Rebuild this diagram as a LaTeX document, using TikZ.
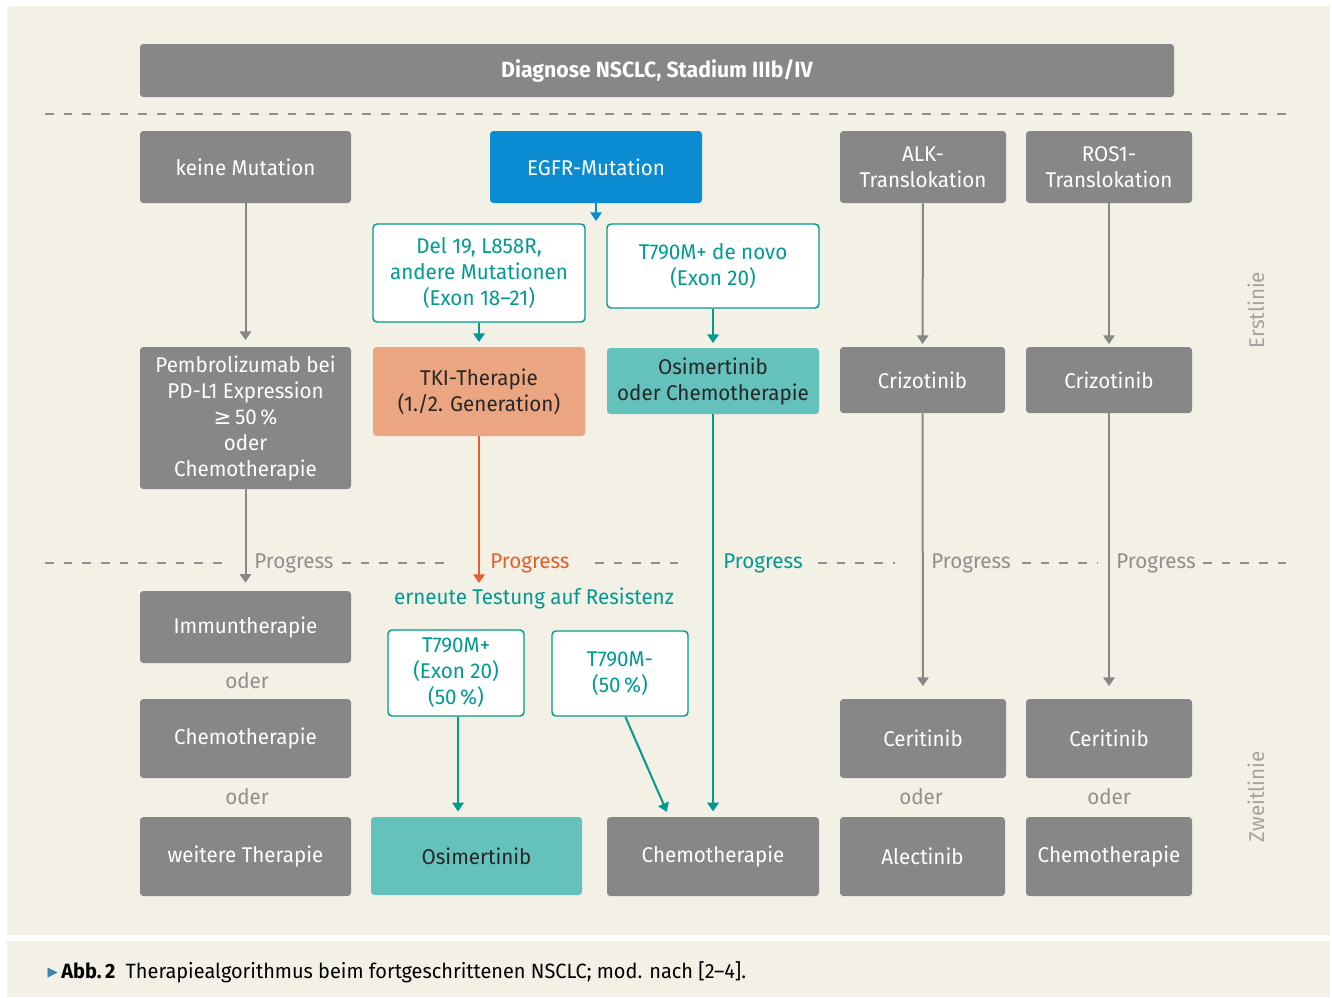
\documentclass[tikz,border=0pt]{standalone}
\usepackage{fontspec}
\setmainfont{Fira Sans}[FakeStretch=0.965]
\newfontfamily\symfont{DejaVu Sans}
\usepackage{xcolor}
\definecolor{beige_bg}{HTML}{F3F0E6}
\definecolor{gray_box}{HTML}{878787}
\definecolor{gray_text}{HTML}{8F8F8F}
\definecolor{gray_side}{HTML}{A3A3A3}
\definecolor{blue_egfr}{HTML}{0A8BD2}
\definecolor{teal_line}{HTML}{009A91}
\definecolor{teal_fill}{HTML}{64C1BC}
\definecolor{orange_fill}{HTML}{EBA580}
\definecolor{orange_line}{HTML}{E0602E}
\definecolor{blue_cap}{HTML}{3A86AE}
\usepackage{tikz}
\usetikzlibrary{arrows.meta,positioning,calc}

\begin{document}
\begin{tikzpicture}
[	x=0.75pt, y=-0.75pt,
	font=\fontsize{16}{19.5}\selectfont,
	size/.style 2 args = {minimum width=#1*0.75pt, minimum height=#2*0.75pt, inner sep=0},
	graybox/.style = {rectangle, rounded corners=2.5pt, fill=gray_box, text=white, align=center},
	bluebox/.style = {graybox, fill=blue_egfr},
	mutbox/.style = {rectangle, rounded corners=3pt, draw=teal_line, line width=1.1pt, fill=white, text=teal_line, align=center},
	tealbox/.style = {graybox, fill=teal_fill, text=black!85},
	orangebox/.style = {graybox, fill=orange_fill, text=black!85},
	odertext/.style = {text=gray_text},
	sidetext/.style = {rotate=90, text=gray_side},
	sep/.style = {gray_text, line width=0.9pt, dash pattern=on 6.5pt off 7.5pt},
	arr/.style = {-{Triangle[width=8.5pt,length=6.5pt]}, line width=1.5pt},
	grayarr/.style = {arr, gray_box},
	tealarr/.style = {arr, teal_line},
	bluearr/.style = {arr, blue_egfr},
	orangearr/.style = {arr, orange_line}
]
\useasboundingbox (0,0) rectangle (1332,997);
\fill[white] (0,0) rectangle (1332,997);
\fill[beige_bg] (7,6) rectangle (1330,935);
\fill[beige_bg] (7,941) rectangle (1330,997);

% head
\node[graybox, size={1034}{53}] (diag) at (657,70.5) {\fontsize{16.5}{19.5}\selectfont\bfseries Diagnose NSCLC, Stadium IIIb/IV};
\draw[sep] (45,114) -- (1292,114);

% first line
\node[graybox, size={211}{72}] (keine) at (245.5,167) {keine Mutation};
\node[bluebox, size={212}{72}] (egfr) at (596,167) {EGFR-Mutation};
\node[graybox, size={166}{72}] (alk) at (923,167) {ALK-\\Translokation};
\node[graybox, size={166}{72}] (ros) at (1109,167) {ROS1-\\Translokation};

\node[mutbox, size={212}{98}] (del19) at (479,273) {Del 19, L858R,\\andere Mutationen\\(Exon 18--21)};
\node[mutbox, size={212}{84}] (denovo) at (713,266) {T790M+ de novo\\(Exon 20)};

\node[graybox, size={211}{142}] (pembro) at (245.5,418) {Pembrolizumab bei\\PD-L1 Expression\\{\symfont ≥}\,50\,\%\\oder\\Chemotherapie};
\node[orangebox, size={212}{89}] (tki) at (479,391.5) {TKI-Therapie\\(1./2. Generation)};
\node[tealbox, size={212}{66}] (osichemo) at (713,381) {Osimertinib\\oder Chemotherapie};
\node[graybox, size={165}{66}] (crizo1) at (922.5,380) {Crizotinib};
\node[graybox, size={166}{66}] (crizo2) at (1109,380) {Crizotinib};

\node[sidetext] (erst) at (1256,310) {Erstlinie};

% progress
\foreach \a/\b in {45/222, 342/448, 595/680, 818/895, 1022/1098, 1203/1292}
	\draw[sep] (\a,563) -- (\b,563);
\node[text=gray_text] (prog1) at (294,563) {Progress};
\node[text=orange_line] (prog2) at (530,563) {Progress};
\node[text=teal_line] (prog3) at (763,563) {Progress};
\node[text=gray_text] (prog4) at (971,563) {Progress};
\node[text=gray_text] (prog5) at (1156,563) {Progress};

% second line
\node[graybox, size={211}{72}] (immun) at (245.5,627) {Immuntherapie};
\node[odertext] (oder1) at (247,681) {oder};
\node[graybox, size={211}{79}] (chemo1) at (245.5,738.5) {Chemotherapie};
\node[odertext] (oder2) at (247,797) {oder};
\node[graybox, size={211}{79}] (weitere) at (245.5,856.5) {weitere Therapie};

\node[text=teal_line] (testung) at (534,598) {erneute Testung auf Resistenz};
\node[mutbox, size={136}{86}] (tplus) at (456,673) {T790M+\\(Exon 20)\\(50\,\%)};
\node[mutbox, size={136}{85}] (tminus) at (620,673.5) {T790M-\\(50\,\%)};
\node[tealbox, size={211}{78}] (osi) at (476.5,856) {Osimertinib};
\node[graybox, size={212}{79}] (chemo2) at (713,856.5) {Chemotherapie};

\node[graybox, size={166}{79}] (ceri1) at (923,738.5) {Ceritinib};
\node[graybox, size={166}{79}] (ceri2) at (1109,738.5) {Ceritinib};
\node[odertext] (oder3) at (921,797) {oder};
\node[odertext] (oder4) at (1109,797) {oder};
\node[graybox, size={165}{79}] (alec) at (922.5,856.5) {Alectinib};
\node[graybox, size={166}{79}] (chemo3) at (1109,856.5) {Chemotherapie};

\node[sidetext] (zweit) at (1256,797) {Zweitlinie};

% arrows
\coordinate (egfrend) at (596,221);
\coordinate (tkiend) at (479,583);
\draw[grayarr, shorten >=5pt] (keine) -- (pembro);
\draw[grayarr, shorten >=6pt] (pembro) -- (immun);
\draw[bluearr] (egfr) -- (egfrend);
\draw[tealarr, shorten >=3.5pt] (del19) -- (tki);
\draw[tealarr, shorten >=3.5pt] (denovo) -- (osichemo);
\draw[orangearr] (tki) -- (tkiend);
\draw[tealarr, shorten >=4pt] (osichemo) -- (chemo2);
\draw[tealarr, shorten >=4pt] ([xshift=1.5pt]tplus.south) -- ([xshift=1.5pt]tplus.south |- osi.north);
\draw[tealarr, shorten >=4pt] ([xshift=4pt]tminus.south) -- ([xshift=-33pt]chemo2.north);
\draw[grayarr, shorten >=2pt] (alk) -- (crizo1);
\draw[grayarr, shorten >=2pt] (ros) -- (crizo2);
\draw[grayarr, shorten >=9.5pt] (crizo1) -- (ceri1);
\draw[grayarr, shorten >=9.5pt] (crizo2) -- (ceri2);

% caption
\node[anchor=west, font=\fontsize{15.5}{18}\selectfont] (cap) at (43,972)
	{\raisebox{1.5pt}{\color{blue_cap}\symfont\fontsize{10}{10}\selectfont ▶}\,\textbf{Abb.\,2}\enspace Therapiealgorithmus beim fortgeschrittenen NSCLC; mod. nach [2--4].};

\end{tikzpicture}
\end{document}
